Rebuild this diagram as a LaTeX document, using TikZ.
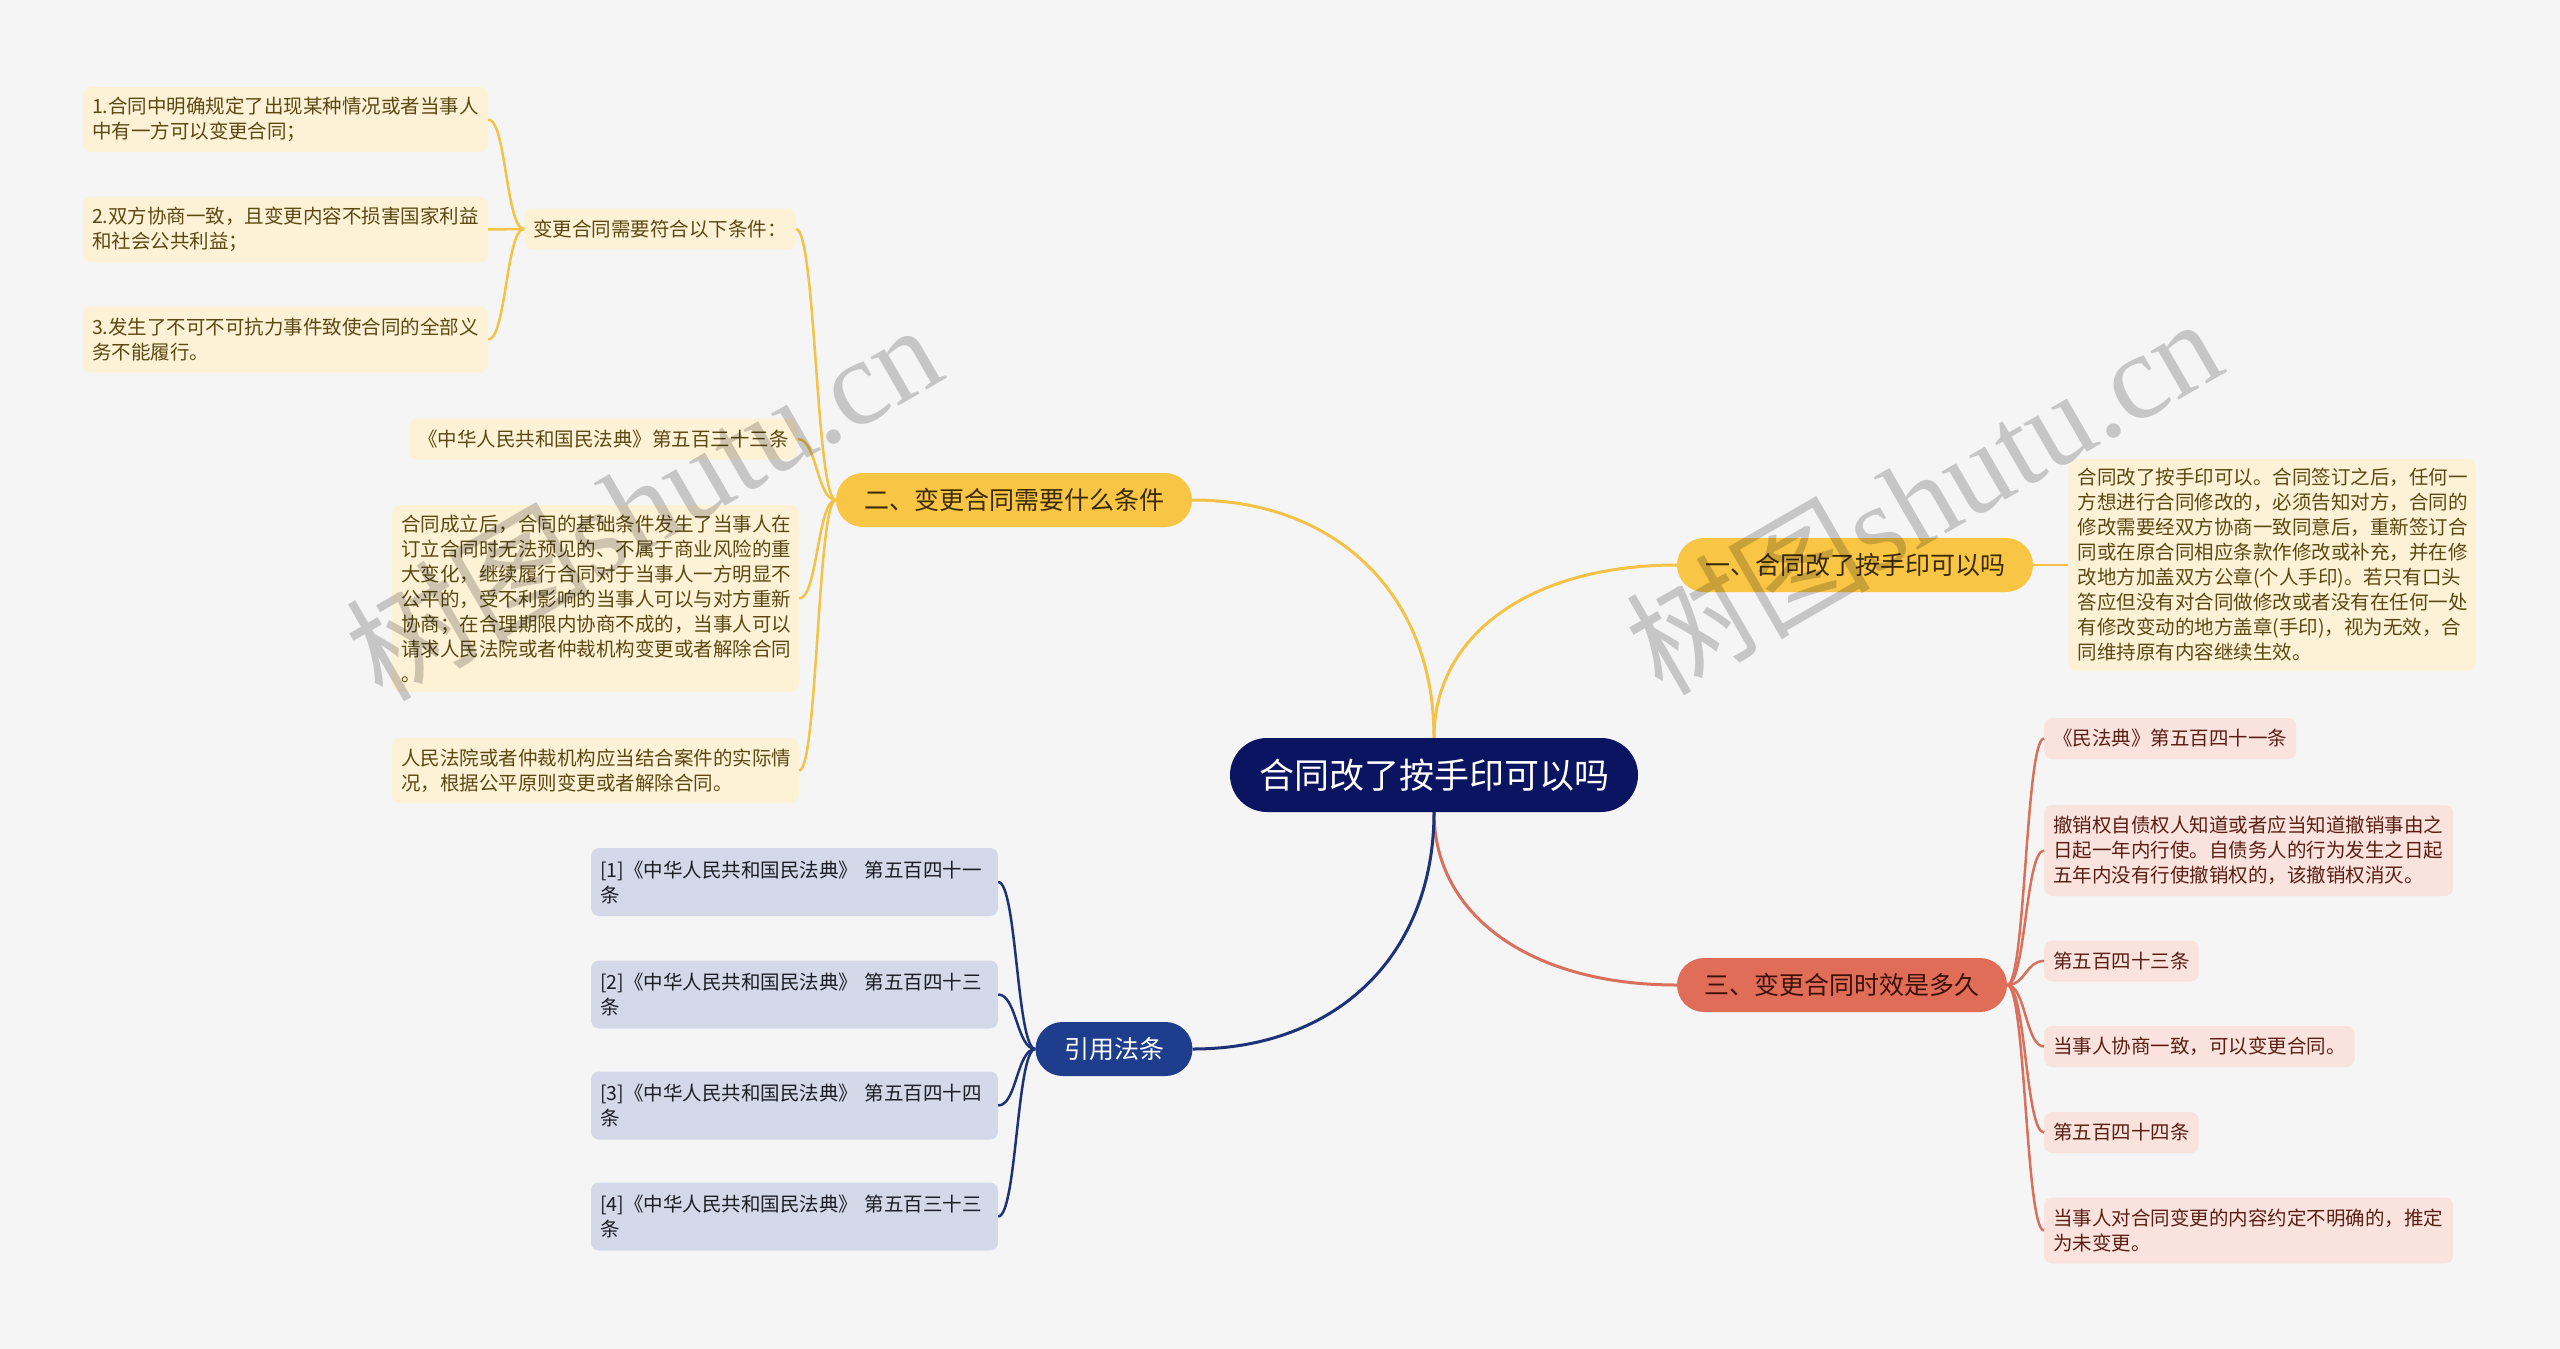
\documentclass[tikz,border=0pt]{standalone}
\usepackage{fontspec}
\setmainfont{Noto Sans CJK SC}
\newfontfamily\wmlatin{Liberation Serif}
\usetikzlibrary{calc}
\definecolor{bg}{HTML}{F5F5F5}
\definecolor{cnavy}{HTML}{0B1460}
\definecolor{ybr}{HTML}{F8C545}
\definecolor{ybrtext}{HTML}{3A2A06}
\definecolor{yline}{HTML}{F4C246}
\definecolor{yleaf}{HTML}{FEF2D6}
\definecolor{yleaftext}{HTML}{5C4813}
\definecolor{rbr}{HTML}{E06D57}
\definecolor{rbrtext}{HTML}{3D1008}
\definecolor{rline}{HTML}{D8705B}
\definecolor{rleaf}{HTML}{FAE3DD}
\definecolor{rleaftext}{HTML}{5A1F14}
\definecolor{bbr}{HTML}{1E3E8D}
\definecolor{bline}{HTML}{1E3377}
\definecolor{bleaf}{HTML}{D3D9E8}
\definecolor{bleaftext}{HTML}{1C1C24}
\newcommand\sedge[3]{\draw[#1] let \p1=(#2), \p2=(#3) in (\p1) .. controls ({0.5*\x1+0.5*\x2},\y1) and ({0.5*\x1+0.5*\x2},\y2) .. (\p2);}
\newcommand\cedge[3]{\draw[#1] let \p1=(#2), \p2=(#3) in (\p1) .. controls (\x1,{\y1+0.6*(\y2-\y1)}) and ({\x1+0.4*(\x2-\x1)},\y2) .. (\p2);}
\tikzset{
  ctr/.style={fill=cnavy, rounded corners=37pt, minimum width=408pt, minimum height=74pt, inner sep=0pt, text=white, font=\fontsize{35}{40}\selectfont},
  br/.style={rounded corners=27pt, minimum height=54pt, inner sep=0pt, font=\fontsize{25}{30}\selectfont},
  ybr/.style={br, fill=ybr, text=ybrtext},
  rbr/.style={br, fill=rbr, text=rbrtext},
  bbr/.style={br, fill=bbr, text=white},
  leaf/.style={rounded corners=8pt, inner xsep=9pt, inner ysep=0pt, align=left, font=\fontsize{19.5}{25}\selectfont},
  yleaf/.style={leaf, fill=yleaf, text=yleaftext},
  rleaf/.style={leaf, fill=rleaf, text=rleaftext},
  bleaf/.style={leaf, fill=bleaf, text=bleaftext},
  mainline/.style={line width=3pt},
  subline/.style={line width=2.5pt},
  wm/.style={text=black, text opacity=0.19, inner sep=0pt, rotate=30, font=\fontsize{122}{122}\selectfont},
}
\begin{document}
\begin{tikzpicture}[x=1pt,y=-1pt]
\fill[bg] (0,0) rectangle (2560,1349);
\useasboundingbox (0,0) rectangle (2560,1349);

% center
\node[ctr] (c) at (1434,775) {合同改了按手印可以吗};

% branches
\node[ybr, minimum width=356pt] (b1) at (1855,565) {一、合同改了按手印可以吗};
\node[ybr, minimum width=356pt] (b2) at (1014,500) {二、变更合同需要什么条件};
\node[rbr, minimum width=330pt] (b3) at (1842,985) {三、变更合同时效是多久};
\node[bbr, minimum width=157pt] (b4) at (1114,1049) {引用法条};

% branch 1 leaf
\node[yleaf, text width=389pt, minimum height=212pt] (l1) at (2272,565) {合同改了按手印可以。合同签订之后，任何一\\方想进行合同修改的，必须告知对方，合同的\\修改需要经双方协商一致同意后，重新签订合\\同或在原合同相应条款作修改或补充，并在修\\改地方加盖双方公章(个人手印)。若只有口头\\答应但没有对合同做修改或者没有在任何一处\\有修改变动的地方盖章(手印)，视为无效，合\\同维持原有内容继续生效。};

% branch 2 children
\node[yleaf, minimum height=41pt] (s1) at (660,229) {变更合同需要符合以下条件：};
\node[yleaf, minimum height=41pt, minimum width=383pt, align=right] (y2) at (603.5,439) {《中华人民共和国民法典》第五百三十三条};
\node[yleaf, text width=389pt, minimum height=187pt] (y3) at (595.5,598.5) {合同成立后，合同的基础条件发生了当事人在\\订立合同时无法预见的、不属于商业风险的重\\大变化，继续履行合同对于当事人一方明显不\\公平的，受不利影响的当事人可以与对方重新\\协商；在合理期限内协商不成的，当事人可以\\请求人民法院或者仲裁机构变更或者解除合同\\。};
\node[yleaf, text width=389pt, minimum height=65pt] (y4) at (595.5,770.5) {人民法院或者仲裁机构应当结合案件的实际情\\况，根据公平原则变更或者解除合同。};

% sub-branch children
\node[yleaf, text width=387pt, minimum height=65pt] (i1) at (285.5,119.5) {1.合同中明确规定了出现某种情况或者当事人\\中有一方可以变更合同；};
\node[yleaf, text width=387pt, minimum height=66pt] (i2) at (285.5,229.5) {2.双方协商一致，且变更内容不损害国家利益\\和社会公共利益；};
\node[yleaf, text width=387pt, minimum height=66pt] (i3) at (285.5,339.5) {3.发生了不可不可抗力事件致使合同的全部义\\务不能履行。};

% branch 3 children
\node[rleaf, minimum height=41pt, anchor=west] (r1) at (2044,738.5) {《民法典》第五百四十一条};
\node[rleaf, text width=391pt, minimum height=91pt, anchor=west] (r2) at (2044,850.5) {撤销权自债权人知道或者应当知道撤销事由之\\日起一年内行使。自债务人的行为发生之日起\\五年内没有行使撤销权的，该撤销权消灭。};
\node[rleaf, minimum height=41pt, anchor=west] (r3) at (2044,961) {第五百四十三条};
\node[rleaf, minimum height=41pt, anchor=west] (r4) at (2044,1046.5) {当事人协商一致，可以变更合同。};
\node[rleaf, minimum height=41pt, anchor=west] (r5) at (2044,1132.5) {第五百四十四条};
\node[rleaf, text width=391pt, minimum height=66pt, anchor=west] (r6) at (2044,1230.5) {当事人对合同变更的内容约定不明确的，推定\\为未变更。};

% branch 4 children
\node[bleaf, text width=389pt, minimum height=68pt] (k1) at (794.5,882) {[1]《中华人民共和国民法典》 第五百四十一\\条};
\node[bleaf, text width=389pt, minimum height=68pt] (k2) at (794.5,994.5) {[2]《中华人民共和国民法典》 第五百四十三\\条};
\node[bleaf, text width=389pt, minimum height=68pt] (k3) at (794.5,1105.5) {[3]《中华人民共和国民法典》 第五百四十四\\条};
\node[bleaf, text width=389pt, minimum height=68pt] (k4) at (794.5,1216.5) {[4]《中华人民共和国民法典》 第五百三十三\\条};

% center edges
\cedge{yline, mainline}{c.north}{b1.west}
\cedge{yline, mainline}{c.north}{b2.east}
\cedge{rline, mainline}{c.south}{b3.west}
\cedge{bline, mainline}{c.south}{b4.east}

% branch edges
\sedge{yline, subline}{b1.east}{l1.west}
\foreach \t in {s1,y2,y3,y4} {\sedge{yline, subline}{b2.west}{\t.east}}
\foreach \t in {i1,i2,i3} {\sedge{yline, subline}{s1.west}{\t.east}}
\foreach \t in {r1,r2,r3,r4,r5,r6} {\sedge{rline, subline}{b3.east}{\t.west}}
\foreach \t in {k1,k2,k3,k4} {\sedge{bline, subline}{b4.west}{\t.east}}

% watermarks
\node[wm] (wm1) at (643,500) {树图{\wmlatin shutu.cn}};
\node[wm] (wm2) at (1923,494) {树图{\wmlatin shutu.cn}};
\end{tikzpicture}
\end{document}
